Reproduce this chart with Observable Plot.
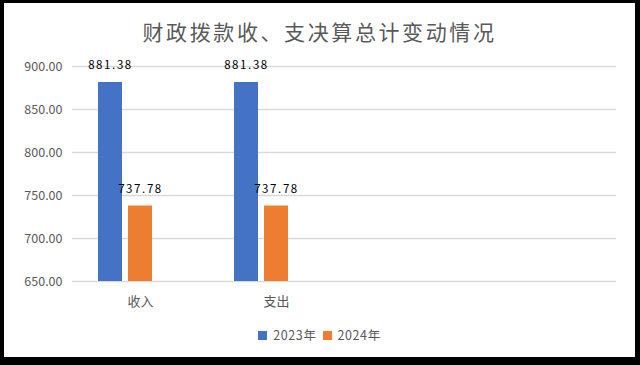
<!DOCTYPE html>
<html>
<head>
<meta charset="utf-8">
<script src="https://cdn.jsdelivr.net/npm/d3@7"></script>
<script src="https://cdn.jsdelivr.net/npm/@observablehq/plot@0.6"></script>
<style>
  html, body { margin: 0; padding: 0; background: #000; width: 640px; height: 365px; overflow: hidden; }
  #box { position: absolute; left: 4px; top: 3px; width: 631px; height: 354px; background: #fff; font-family: "Noto Sans CJK SC", "Noto Sans", sans-serif; }
  #title { position: absolute; left: 0; width: 631px; top: 16px; text-align: center; font-size: 21px; letter-spacing: 2.6px; color: #595959; line-height: 24px; }
  #chart { position: absolute; left: 0; top: 0; }
  #legend { position: absolute; left: 0; width: 631px; top: 324px; display: flex; justify-content: center; align-items: center; font-size: 12.5px; letter-spacing: 0.6px; color: #595959; line-height: 16px; }
  .sw { display: inline-block; width: 9px; height: 9px; margin-right: 6px; }
  .item { display: flex; align-items: center; margin: 0 3px; }
</style>
</head>
<body>
<div id="box">
  <div id="title"></div>
  <div id="chart"></div>
  <div id="legend"></div>
</div>
<script>
const titleText = "财政拨款收、支决算总计变动情况";
const categories = ["收入", "支出"];
const blankCategories = ["_c3", "_c4"];
const series = ["2023年", "2024年"];
const blankSeries = ["_s3"];
const values2023 = [881.38, 881.38];
const values2024 = [737.78, 737.78];
const yTicks = [650, 700, 750, 800, 850, 900];
const colors = ["#4472C4", "#ED7D31"];

const data = [];
categories.forEach((c, i) => {
  data.push({cat: c, year: series[0], value: values2023[i]});
  data.push({cat: c, year: series[1], value: values2024[i]});
});
// empty category slots (no values) so that every facet is drawn
const gridData = [];
[...categories, ...blankCategories].forEach(c => yTicks.forEach(t => gridData.push({cat: c, tick: t})));
const yMin = yTicks[0];

document.getElementById("title").textContent = titleText;

const chart = Plot.plot({
  width: 631,
  height: 320,
  marginLeft: 67,
  marginRight: 19,
  marginTop: 63,
  marginBottom: 42,
  style: {background: "transparent", fontFamily: "'Noto Sans CJK SC', 'Noto Sans', sans-serif", color: "#595959"},
  fx: {domain: [...categories, ...blankCategories], paddingInner: 0, paddingOuter: 0, label: null},
  x: {domain: [...series, ...blankSeries], paddingInner: 0.206, paddingOuter: 0.8, axis: null},
  y: {domain: [yTicks[0], yTicks[yTicks.length - 1]], axis: null},
  color: {domain: series, range: colors},
  marks: [
    Plot.ruleY(gridData, {fx: "cat", y: "tick", stroke: "#d9d9d9", strokeWidth: 1.3}),
    Plot.axisY({ticks: yTicks, tickSize: 0, tickPadding: 10, tickFormat: d3.format(".2f"), fontSize: 12.5, fill: "#595959", label: null, facetAnchor: "left"}),
    Plot.axisFx({anchor: "bottom", tickSize: 0, tickPadding: 15, fontSize: 13, fill: "#595959", label: null,
                 tickFormat: d => categories.includes(d) ? d : ""}),
    Plot.rectY(data, {fx: "cat", x: "year", y1: () => yMin, y2: "value", fill: "year"}),
    Plot.text(data, {fx: "cat", x: "year", y: "value", text: d => d.value.toFixed(2), dy: -17, fontSize: 11.5, fill: "#000"})
  ]
});
document.getElementById("chart").appendChild(chart);
d3.select(chart).selectAll("g[aria-label='text'] text").attr("letter-spacing", "1.6px");

const legend = document.getElementById("legend");
series.forEach((s, i) => {
  const item = document.createElement("span");
  item.className = "item";
  const sw = document.createElement("span");
  sw.className = "sw";
  sw.style.background = colors[i];
  item.appendChild(sw);
  item.appendChild(document.createTextNode(s));
  legend.appendChild(item);
});
</script>
</body>
</html>
